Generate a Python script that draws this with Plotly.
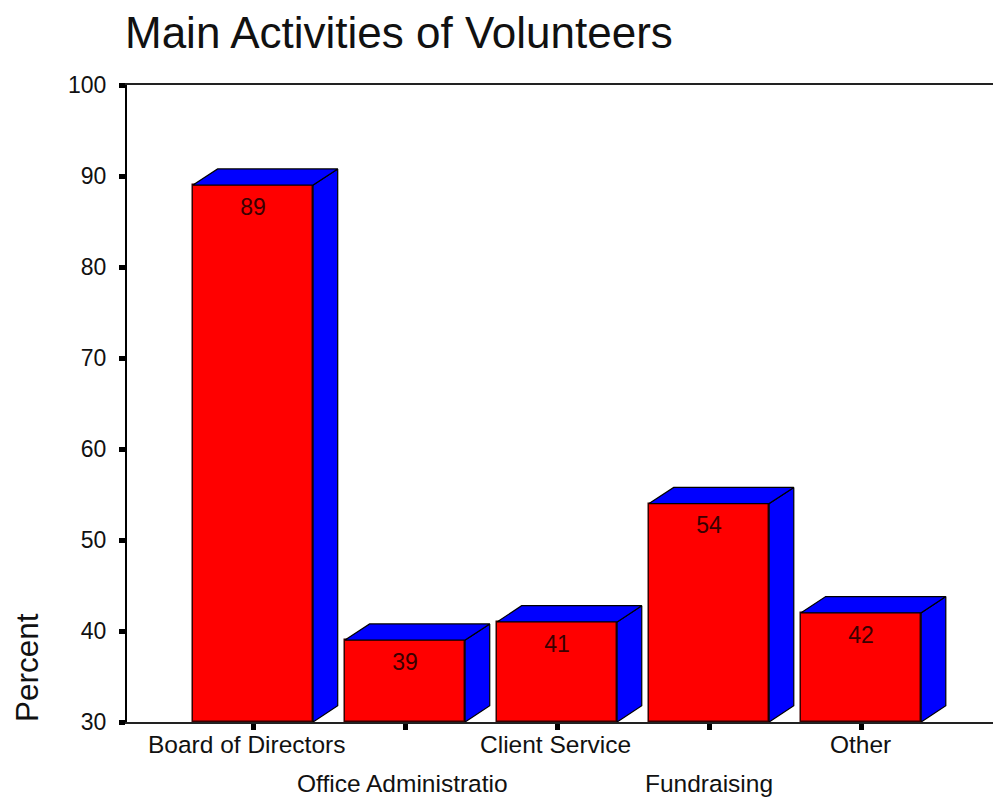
import plotly.graph_objects as go

categories = ["Board of Directors", "Office Administratio", "Client Service", "Fundraising", "Other"]
values = [89, 39, 41, 54, 42]
y_ticks = [30, 40, 50, 60, 70, 80, 90, 100]

Y_MIN, Y_MAX = 30, 100
BAR_W = 0.79
DX = 0.162   # depth offset in category units
DY = 1.78    # depth offset in value units
LABEL_DROP = 2.65  # value label sits this far below bar top (value units)
FONT = "Liberation Sans, Arial, sans-serif"

# page body has an 8px margin; size figure so it ends at the window edge
W, H = 993, 789
ML, MT, MB = 119, 77, 75
PLOT_H = H - MT - MB

xs = list(range(len(categories)))
h = BAR_W / 2

# side faces and top faces of the 3D blocks, derived from the data
side_x, side_y, top_x, top_y = [], [], [], []
for c, v in zip(xs, values):
    side_x += [c + h, c + h + DX, c + h + DX, c + h, c + h, None]
    side_y += [Y_MIN, Y_MIN + DY, v + DY, v, Y_MIN, None]
    top_x += [c - h, c - h + DX, c + h + DX, c + h, c - h, None]
    top_y += [v, v + DY, v + DY, v, v, None]

fig = go.Figure()
fig.add_trace(go.Scatter(x=side_x, y=side_y, mode="lines", fill="toself",
                         fillcolor="#0000ff", line=dict(color="#000000", width=1.2),
                         hoverinfo="skip", showlegend=False))
fig.add_trace(go.Scatter(x=top_x, y=top_y, mode="lines", fill="toself",
                         fillcolor="#0000ff", line=dict(color="#000000", width=1.2),
                         hoverinfo="skip", showlegend=False))
fig.add_trace(go.Bar(x=xs, y=[v - Y_MIN for v in values], base=Y_MIN, width=BAR_W,
                     marker=dict(color="#ff0000", line=dict(color="#3a0000", width=1.5)),
                     showlegend=False))
fig.add_trace(go.Scatter(x=xs, y=[v - LABEL_DROP for v in values], mode="text",
                         text=[str(v) for v in values],
                         textfont=dict(family=FONT, size=23, color="#3a0000"),
                         hoverinfo="skip", showlegend=False))

# staggered category labels
label_xshift = [-7, -3, -2, 0, -1]
for i, (c, name) in enumerate(zip(xs, categories)):
    fig.add_annotation(x=c, xref="x", y=0, yref="paper", text=name, showarrow=False,
                       xanchor="center", yanchor="middle", xshift=label_xshift[i],
                       yshift=-22 if i % 2 == 0 else -61,
                       font=dict(family=FONT, size=24.5, color="#111111"))

fig.add_annotation(x=(27 - 8 - ML) / (W - ML), xref="paper", xanchor="center",
                   y=(722 - 668) / PLOT_H, yref="paper", yanchor="middle",
                   text="Percent", textangle=-90, showarrow=False,
                   font=dict(family=FONT, size=31.5, color="#111111"))

fig.update_layout(
    width=W, height=H,
    margin=dict(l=ML, r=0, t=MT, b=MB),
    paper_bgcolor="white", plot_bgcolor="white",
    title=dict(text="Main Activities of Volunteers", x=(125 - 8) / W, xanchor="left",
               xref="container", y=1 - (33 - 8) / H, yanchor="middle", yref="container",
               font=dict(family=FONT, size=44, color="#111111")),
    bargap=0,
)

fig.update_xaxes(range=[-0.829, 4.92], tickvals=xs, ticktext=["" for _ in xs],
                 ticks="outside", ticklen=6, tickwidth=5, tickcolor="black",
                 showline=True, linecolor="#222222", linewidth=2, mirror=True,
                 showgrid=False, zeroline=False)
fig.update_yaxes(range=[Y_MIN, Y_MAX], tickvals=y_ticks,
                 ticks="outside", ticklen=6, tickwidth=5, tickcolor="black",
                 ticklabelstandoff=8,
                 tickfont=dict(family=FONT, size=23, color="#111111"),
                 showline=True, linecolor="black", linewidth=2, mirror=False,
                 showgrid=False, zeroline=False)

fig.write_html("out.html")
